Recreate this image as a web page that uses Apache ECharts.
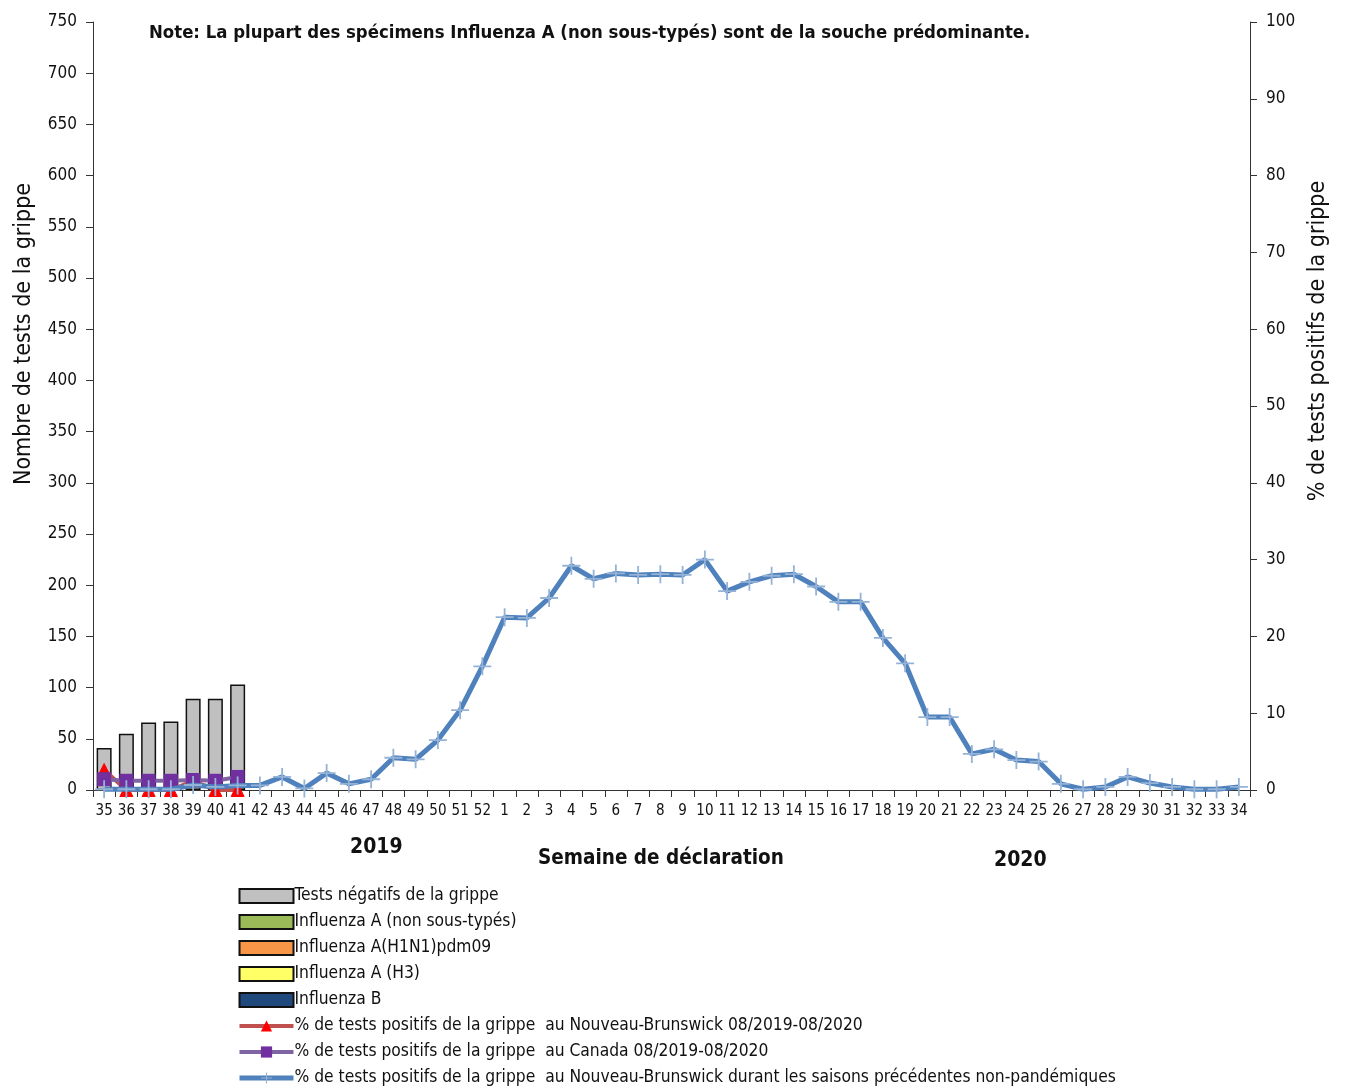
<!DOCTYPE html>
<html>
<head>
<meta charset="utf-8">
<script src="https://cdn.jsdelivr.net/npm/echarts@6/dist/echarts.min.js"></script>
<style>html,body{margin:0;padding:0;background:#fff}#c{width:1349px;height:1091px}</style>
</head>
<body>
<div id="c"></div>
<script>
const weeks = ['35','36','37','38','39','40','41','42','43','44','45','46','47','48','49','50','51','52','1','2','3','4','5','6','7','8','9','10','11','12','13','14','15','16','17','18','19','20','21','22','23','24','25','26','27','28','29','30','31','32','33','34'];
const negatives = [41,55,66,67,89,89,103];
const fluANonSub = [0,0,0,0,0,0,0];
const fluAH1N1 = [0,0,0,0,0,0,0];
const fluAH3 = [0,0,0,0,0,0,0];
const fluB = [0,0,0,0,0,0,0];
const pctNB = [2.6,0,0,0,1.2,0,0];
const pctCanada = [1.4,1.2,1.2,1.2,1.3,1.2,1.7];
const pctNBPrev = [0.1,0.1,0.1,0.1,0.65,0.4,0.6,0.6,1.7,0.2,2.2,0.8,1.4,4.2,4.0,6.5,10.4,16.1,22.5,22.4,25.0,29.2,27.5,28.2,28.0,28.1,28.0,30.0,25.9,27.1,27.9,28.1,26.5,24.5,24.5,19.8,16.5,9.5,9.5,4.7,5.3,3.9,3.7,0.8,0.1,0.4,1.7,0.9,0.4,0.1,0.1,0.4];
const leftTicks = {min:0,max:750,interval:50};
const rightTicks = {min:0,max:100,interval:10};

const FONT = '"DejaVu Sans Condensed","Liberation Sans Narrow","Arial Narrow",sans-serif';
const plus = 'path://M9,0 h2 v9 h9 v2 h-9 v9 h-2 v-9 h-9 v-2 h9 z';
const names = {
  neg:'Tests négatifs de la grippe',
  a:'Influenza A (non sous-typés)',
  h1:'Influenza A(H1N1)pdm09',
  h3:'Influenza A (H3)',
  b:'Influenza B',
  nb:'% de tests positifs de la grippe  au Nouveau-Brunswick 08/2019-08/2020',
  ca:'% de tests positifs de la grippe  au Canada 08/2019-08/2020',
  prev:'% de tests positifs de la grippe  au Nouveau-Brunswick durant les saisons précédentes non-pandémiques'
};
const nz = arr => arr.map(v => v === 0 ? null : v);
function bar(name, data, color){
  return {name, type:'bar', stack:'s', data:nz(data), barWidth:15,
    itemStyle:{color, borderColor:'#111', borderWidth:1.5}};
}
const chart = echarts.init(document.getElementById('c'));
chart.setOption({
  animation:false,
  textStyle:{fontFamily:FONT},
  grid:{left:93,right:99,top:22,bottom:301,containLabel:false},
  legend:{
    orient:'vertical', left:232, top:881, height:210, itemGap:6, itemWidth:54, itemHeight:14,
    textStyle:{fontFamily:FONT,fontSize:17.3,color:'#111',lineHeight:20,padding:[0,0,0,-4]},
    data:[
      {name:names.neg,icon:'rect'},{name:names.a,icon:'rect'},{name:names.h1,icon:'rect'},
      {name:names.h3,icon:'rect'},{name:names.b,icon:'rect'},
      {name:names.nb,lineStyle:{width:4}},{name:names.ca,lineStyle:{width:4}},{name:names.prev,lineStyle:{width:5}}
    ]
  },
  xAxis:{type:'category',data:weeks,
    axisLine:{lineStyle:{color:'#333',width:1}},
    axisTick:{show:true,alignWithLabel:false,length:7,lineStyle:{color:'#333'}},
    axisLabel:{interval:0,fontFamily:FONT,fontSize:15,color:'#111',margin:14}},
  yAxis:[
    {type:'value',min:leftTicks.min,max:leftTicks.max,interval:leftTicks.interval,
     axisLine:{show:true,lineStyle:{color:'#333'}},
     axisTick:{show:true,length:7,lineStyle:{color:'#333'}},
     splitLine:{show:false},
     axisLabel:{fontFamily:FONT,fontSize:17,color:'#111',margin:16}},
    {type:'value',min:rightTicks.min,max:rightTicks.max,interval:rightTicks.interval,
     axisLine:{show:true,lineStyle:{color:'#333'}},
     axisTick:{show:true,length:7,lineStyle:{color:'#333'}},
     splitLine:{show:false},
     axisLabel:{fontFamily:FONT,fontSize:17,color:'#111',margin:16}}
  ],
  graphic:[
    {type:'text',left:149,top:24,style:{text:'Note: La plupart des spécimens Influenza A (non sous-typés) sont de la souche prédominante.',
      font:'bold 18.4px '+FONT,fill:'#111'}},
    {type:'text',x:24,y:334,rotation:Math.PI/2,style:{text:'Nombre de tests de la grippe',font:'23px '+FONT,fill:'#111',align:'center',verticalAlign:'middle'}},
    {type:'text',x:1318,y:341,rotation:Math.PI/2,style:{text:'% de tests positifs de la grippe',font:'23px '+FONT,fill:'#111',align:'center',verticalAlign:'middle'}},
    {type:'text',left:350,top:837,style:{text:'2019',font:'bold 21px '+FONT,fill:'#111'}},
    {type:'text',left:538,top:848,style:{text:'Semaine de déclaration',font:'bold 20.5px '+FONT,fill:'#111'}},
    {type:'text',left:994,top:850,style:{text:'2020',font:'bold 21px '+FONT,fill:'#111'}}
  ],
  series:[
    bar(names.b, fluB, '#1f497d'),
    bar(names.h3, fluAH3, '#ffff66'),
    bar(names.h1, fluAH1N1, '#f79646'),
    bar(names.a, fluANonSub, '#9bbb59'),
    bar(names.neg, negatives, '#c0c0c0'),
    {name:names.prev,type:'line',yAxisIndex:1,data:pctNBPrev,z:5,
      lineStyle:{color:'#4f81bd',width:5},itemStyle:{color:'#95b3d7'},
      symbol:plus,symbolSize:18,showSymbol:true},
    {name:names.nb,type:'line',yAxisIndex:1,data:pctNB,z:3,
      lineStyle:{color:'#c0504d',width:4},itemStyle:{color:'#ff0000',borderColor:'#ff0000'},
      symbol:'triangle',symbolSize:13},
    {name:names.ca,type:'line',yAxisIndex:1,data:pctCanada,z:4,
      lineStyle:{color:'#8064a2',width:4},itemStyle:{color:'#7030a0'},
      symbol:'rect',symbolSize:14}
  ]
});
</script>
</body>
</html>
